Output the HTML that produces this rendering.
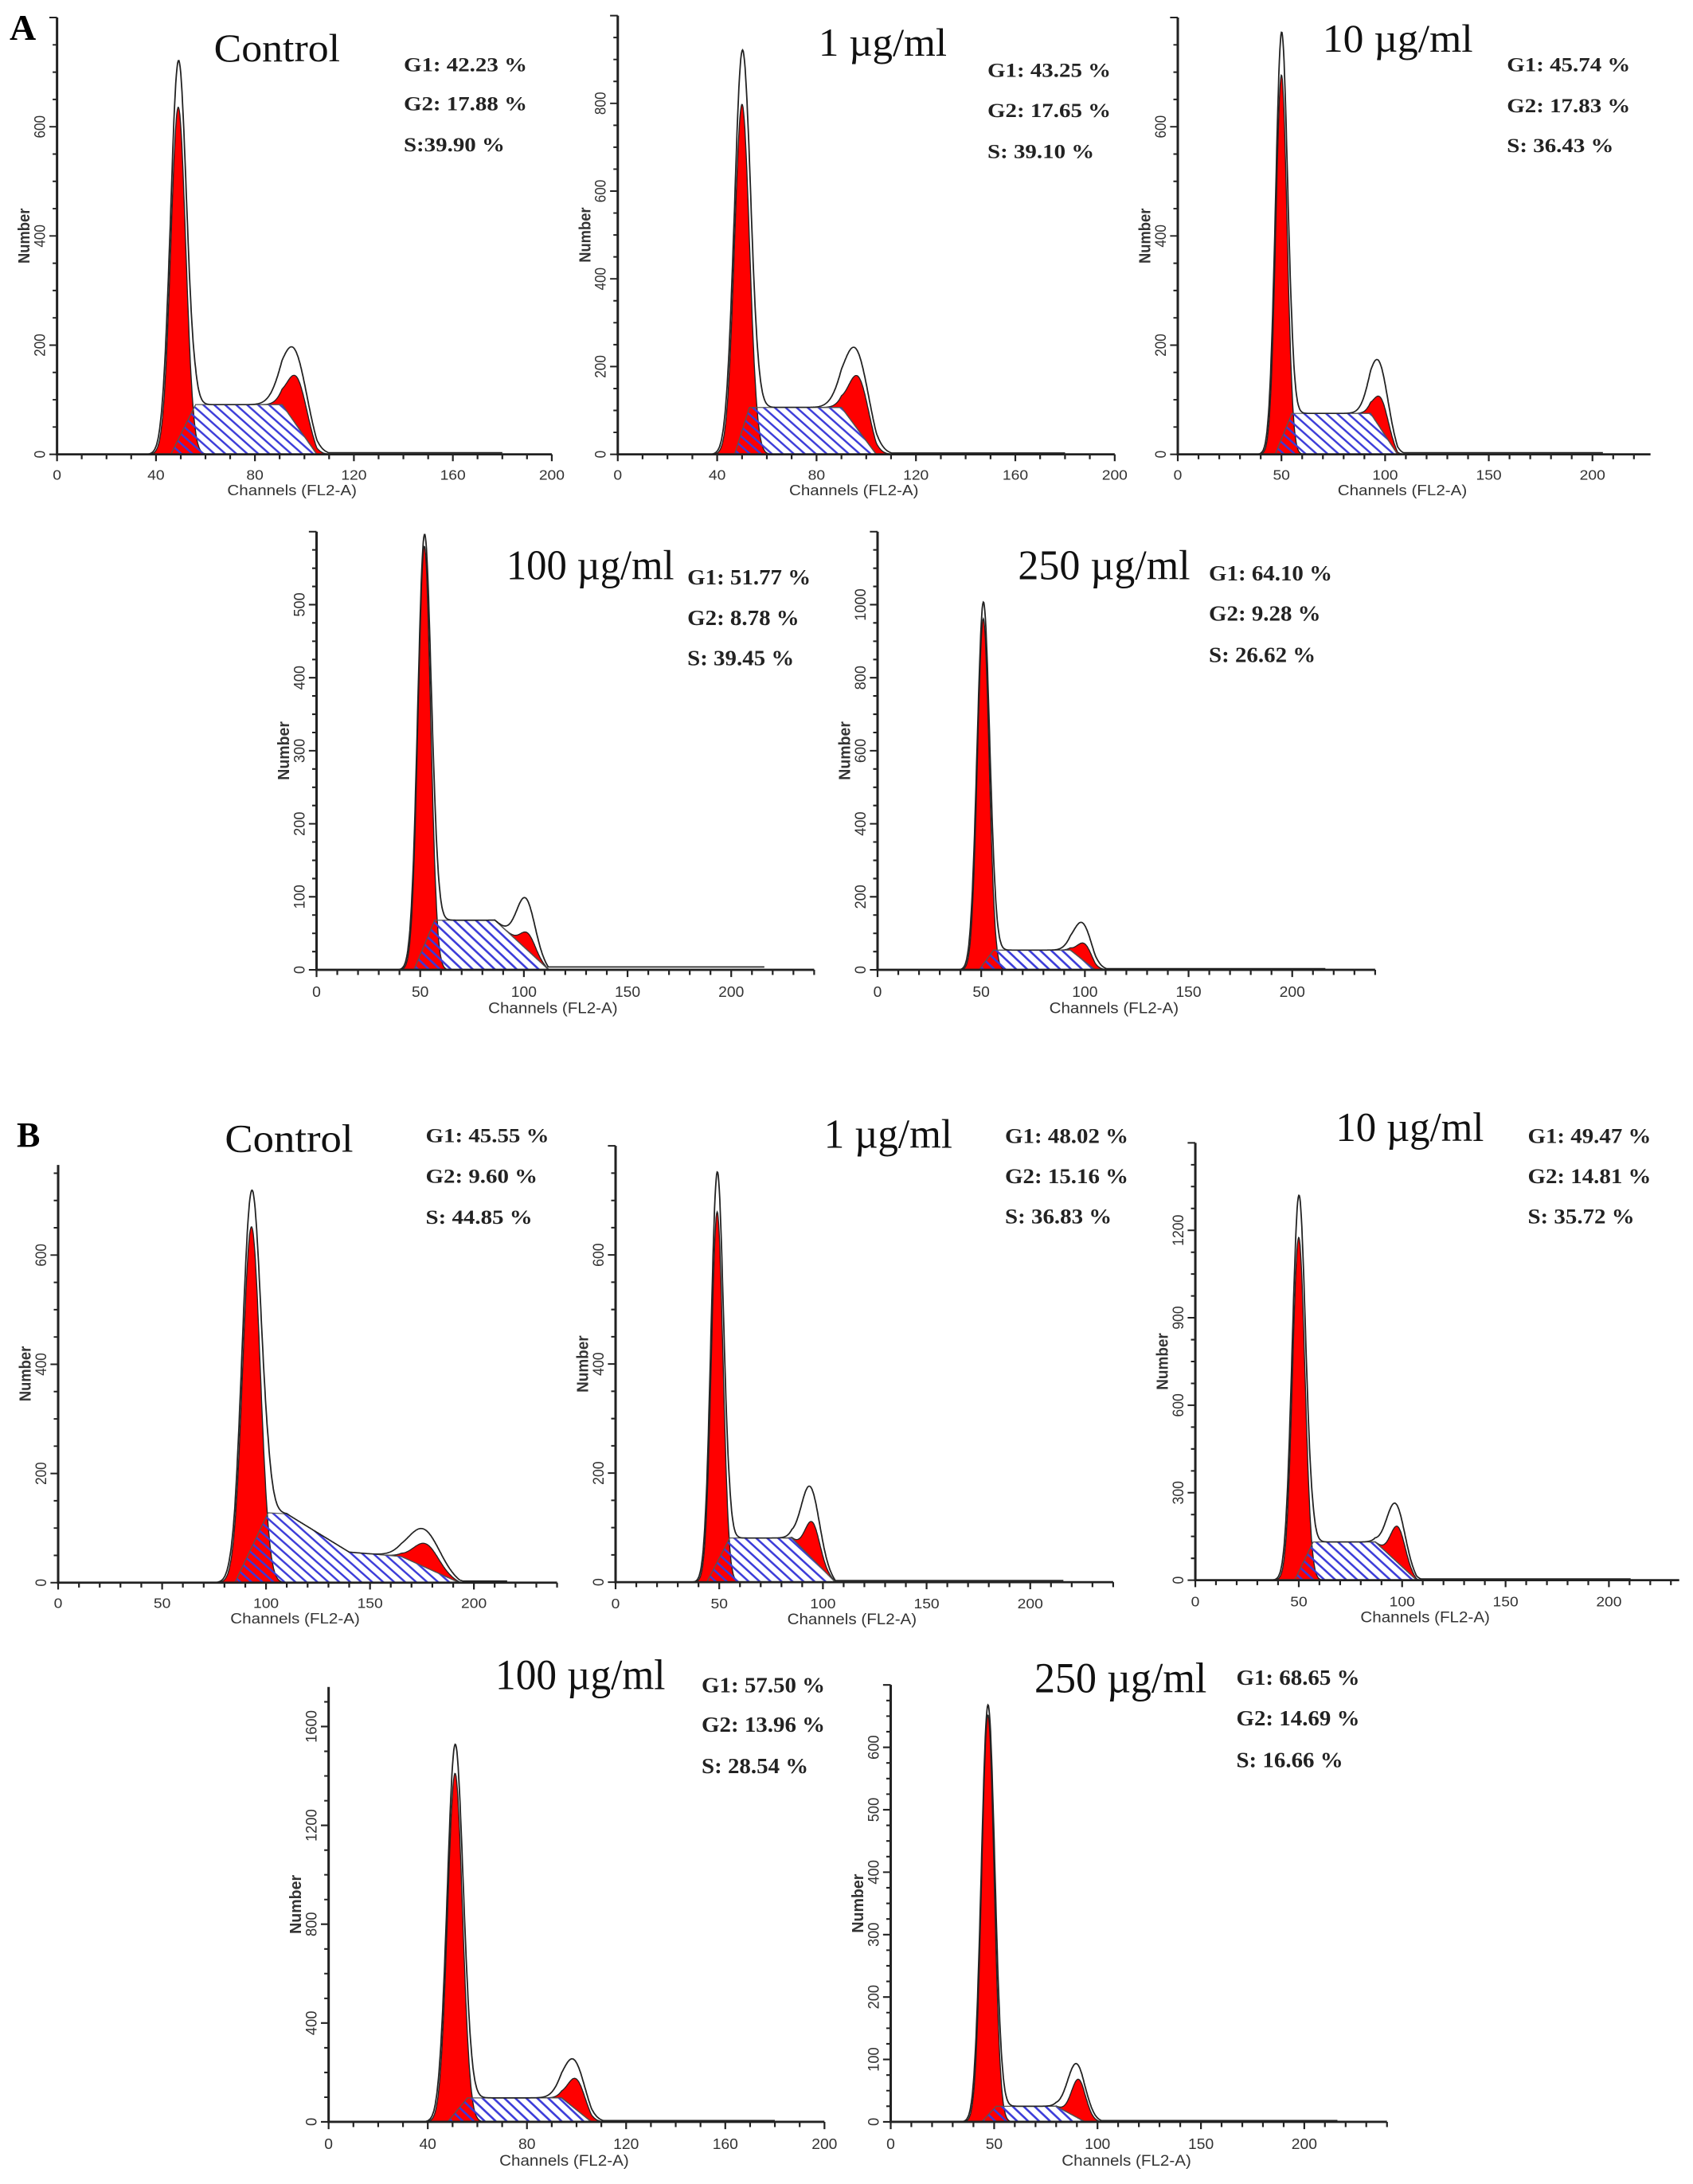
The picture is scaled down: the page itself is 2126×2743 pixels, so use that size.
<!DOCTYPE html>
<html><head><meta charset="utf-8"><style>
html,body{margin:0;padding:0;background:#fff;}
svg{display:block;}
</style></head><body>
<svg id="fig" xmlns="http://www.w3.org/2000/svg" width="2126" height="2743" viewBox="0 0 2126 2743">
<defs>
<pattern id="hatch" patternUnits="userSpaceOnUse" width="10" height="10">
<path d="M0,0 L10,10 M-5,5 L5,15 M5,-5 L15,5" stroke="#3a3ad8" stroke-width="1.9"/>
</pattern>
</defs>
<rect x="0" y="0" width="2126" height="2743" fill="#fff"/>
<text x="12" y="50" font-family="Liberation Serif, serif" font-size="46" font-weight="bold">A</text>
<text x="21" y="1440" font-family="Liberation Serif, serif" font-size="44" font-weight="bold">B</text>
</svg>
<script>
// ---- data (A1..A5, B1..B5) ----
const panelTitles = ["Control","1 µg/ml","10 µg/ml","100 µg/ml","250 µg/ml","Control","1 µg/ml","10 µg/ml","100 µg/ml","250 µg/ml"];
const statsG1 = ["G1: 42.23 %","G1: 43.25 %","G1: 45.74 %","G1: 51.77 %","G1: 64.10 %","G1: 45.55 %","G1: 48.02 %","G1: 49.47 %","G1: 57.50 %","G1: 68.65 %"];
const statsG2 = ["G2: 17.88 %","G2: 17.65 %","G2: 17.83 %","G2: 8.78 %","G2: 9.28 %","G2: 9.60 %","G2: 15.16 %","G2: 14.81 %","G2: 13.96 %","G2: 14.69 %"];
const statsS = ["S:39.90 %","S: 39.10 %","S: 36.43 %","S: 39.45 %","S: 26.62 %","S: 44.85 %","S: 36.83 %","S: 35.72 %","S: 28.54 %","S: 16.66 %"];
const g1Center = [49,50,50,52,51,93,49,50,51,47];
const g1Peak = [636,798,695,580,962,652,679,1176,1411,652];
const g1EnvPeak = [721,920,773,596,1007,718,752,1320,1528,668];
const g1Sigma = [3,3,2.7,3,2.8,4.2,2.8,3,3,3];
const g2Center = [97,97,98,102,100,177,95,98,100,91];
const g2Peak = [141,176,103,50,71,71,110,183,173,68];
const g2EnvPeak = [193,240,171,98,128,98,175,262,252,93];
const g2Sigma = [4,4,3.5,3.5,3.5,6,3.5,3.5,3.5,3.5];
const sKnots = [
 [[46,0],[56,91],[91,91],[105,0]],
 [[47,0],[53,107],[90,107],[104,0]],
 [[47,0],[55,75],[93,75],[106,0]],
 [[47,0],[57,68],[86,68],[112,0]],
 [[49,0],[56,54],[93,54],[105,0]],
 [[85,0],[101,128],[110,126],[140,56],[165,48],[193,0]],
 [[44,0],[55,81],[85,81],[106,0]],
 [[48,0],[57,131],[87,131],[107,0]],
 [[48,0],[56,97],[94,97],[106,0]],
 [[44,0],[51,25],[80,25],[94,0]]
];
const xTickLabels = [
 [0,40,80,120,160,200],[0,40,80,120,160,200],[0,50,100,150,200],[0,50,100,150,200],[0,50,100,150,200],
 [0,50,100,150,200],[0,50,100,150,200],[0,50,100,150,200],[0,40,80,120,160,200],[0,50,100,150,200]
];
const yTickLabels = [
 [0,200,400,600],[0,200,400,600,800],[0,200,400,600],[0,100,200,300,400,500],[0,200,400,600,800,1000],
 [0,200,400,600],[0,200,400,600],[0,300,600,900,1200],[0,400,800,1200,1600],[0,100,200,300,400,500,600]
];
const debrisLevel = [3,3,3,4,3,3,3,4,5,2];

// ---- layout (pixel geometry in measurement space, not data) ----
const layout = [
 {x0:52,y0:466,kx:2.255,xEnd:200,ky:0.56,yTop:800,tx:195,ty:63,tw:115,sx:368,sy:[73,113,155]},
 {x0:755,y0:466,kx:2.265,xEnd:200,ky:0.45,yTop:1000,tx:938,ty:57,tw:117,sx:1092,sy:[79,120,162]},
 {x0:1459,y0:466,kx:1.89,xEnd:228,ky:0.56,yTop:800,tx:1591,ty:53,tw:137,sx:1759,sy:[73,115,156]},
 {x0:379,y0:1082,kx:1.89,xEnd:240,ky:0.705,yTop:600,tx:552,ty:705,tw:153,sx:717,sy:[710,749,788]},
 {x0:1085,y0:1082,kx:1.89,xEnd:240,ky:0.3525,yTop:1200,tx:1213,ty:705,tw:157,sx:1387,sy:[706,745,785]},
 {x0:53,y0:1880,kx:1.895,xEnd:240,ky:0.56,yTop:765,tx:205,ty:1438,tw:117,sx:388,sy:[1428,1470,1512]},
 {x0:753,y0:1865,kx:1.89,xEnd:240,ky:0.5425,yTop:800,tx:943,ty:1433,tw:117,sx:1108,sy:[1428,1468,1508]},
 {x0:1475,y0:1863,kx:1.885,xEnd:234,ky:0.29,yTop:1500,tx:1603,ty:1426,tw:135,sx:1778,sy:[1428,1468,1508]},
 {x0:390,y0:2523,kx:2.26,xEnd:200,ky:0.2375,yTop:1760,tx:542,ty:2107,tw:155,sx:730,sy:[2110,2148,2188]},
 {x0:1097,y0:2523,kx:1.885,xEnd:240,ky:0.6,yTop:700,tx:1228,ty:2110,tw:157,sx:1412,sy:[2103,2142,2182]}
];
// measurement-space correction per panel: [ox, oy, fx, fy]
const correct = [
 [0,0,1.3776,1.2245],[700,0,1.3776,1.2245],[1406,0,1.3776,1.2245],
 [330,630,1.3776,1.301],[1040,630,1.3776,1.301],
 [0,1400,1.3776,1.2245],[700,1400,1.3776,1.2626],[1406,1400,1.3776,1.2626],
 [330,2060,1.3776,1.3066],[1040,2060,1.3776,1.3066]
];
const panelIds = ["a-control","a-1ug","a-10ug","a-100ug","a-250ug","b-control","b-1ug","b-10ug","b-100ug","b-250ug"];

const NS = "http://www.w3.org/2000/svg";
const fig = document.getElementById('fig');
function mk(tag, attrs, parent){
  const e = document.createElementNS(NS, tag);
  for (const k in attrs) e.setAttribute(k, attrs[k]);
  parent.appendChild(e);
  return e;
}
function gauss(x,c,h,s){ return h*Math.exp(-(x-c)*(x-c)/(2*s*s)); }
function sVal(knots,x){
  if (x<=knots[0][0] || x>=knots[knots.length-1][0]) return 0;
  for (let i=0;i<knots.length-1;i++){
    const a=knots[i], b=knots[i+1];
    if (x>=a[0] && x<=b[0]) return a[1]+(b[1]-a[1])*(x-a[0])/(b[0]-a[0]);
  }
  return 0;
}

for (let p=0;p<10;p++){
  const L = layout[p];
  const C = correct[p];
  const X = v => L.x0 + v*L.kx;
  const Y = v => L.y0 - v*L.ky;
  const g = mk('g',{transform:'translate('+C[0]+' '+C[1]+') scale('+C[2]+' '+C[3]+') translate('+(-C[0])+' '+(-C[1])+')'},fig);
  
  
  const kn = sKnots[p];
  const c1=g1Center[p], s1=g1Sigma[p], c2=g2Center[p], s2=g2Sigma[p];
  const g2Rel = g2Peak[p] - sVal(kn,c2);
  const env1Rel = g1EnvPeak[p] - sVal(kn,c1);
  const env2Rel = g2EnvPeak[p] - sVal(kn,c2-1) - gauss(c2-1,c1,env1Rel,s1*1.08);

  let d = 'M'+X(c1-4.2*s1).toFixed(1)+','+Y(0);
  for (let x=c1-4.2*s1;x<=c1+4.2*s1;x+=0.25) d+=' L'+X(x).toFixed(1)+','+Y(gauss(x,c1,g1Peak[p],s1)).toFixed(1);
  d += ' L'+X(c1+4.2*s1).toFixed(1)+','+Y(0)+' Z';
  const r1 = mk('path',{d:d,fill:'#ff0000',stroke:'#222','stroke-width':1},g);
  
  

  let top=[], bot=[];
  for (let x=c2-4*s2;x<=c2+4*s2;x+=0.25){
    const sv=sVal(kn,x);
    top.push(X(x).toFixed(1)+','+Y(sv+gauss(x,c2,g2Rel,s2)).toFixed(1));
    bot.unshift(X(x).toFixed(1)+','+Y(sv).toFixed(1));
  }
  const r2 = mk('path',{d:'M'+top.join(' L')+' L'+bot.join(' L')+' Z',fill:'#ff0000',stroke:'#222','stroke-width':1},g);
  
  

  let sd = 'M'+X(kn[0][0]).toFixed(1)+','+Y(0);
  for (const k of kn) sd += ' L'+X(k[0]).toFixed(1)+','+Y(k[1]).toFixed(1);
  sd += ' Z';
  const sp = mk('path',{d:sd,fill:'url(#hatch)',stroke:'#555','stroke-width':1},g);
  
  

  let ed='';
  const xs=c1-5*s1, xe=L.xEnd*0.9;
  for (let x=xs;x<=xe;x+=0.25){
    let v = gauss(x,c1,env1Rel,s1*1.08) + sVal(kn,x) + gauss(x,c2-1,env2Rel,s2*1.25);
    if (x>c1-3*s1) v = Math.max(v, debrisLevel[p]);
    ed += (ed?' L':'M')+X(x).toFixed(1)+','+Y(v).toFixed(1);
  }
  const ev = mk('path',{d:ed,fill:'none',stroke:'#222','stroke-width':1.3},g);
  
  

  const ax = mk('path',{d:'M'+L.x0+','+Y(L.yTop)+' L'+L.x0+','+L.y0+' L'+X(L.xEnd)+','+L.y0,fill:'none',stroke:'#222','stroke-width':2.2},g);
  
  
  const xt = xTickLabels[p];
  const xStep = xt[1]-xt[0];
  let td='';
  for (let v=0; v<=L.xEnd+0.01; v+=10){
    const major = Math.abs(v/xStep - Math.round(v/xStep))<1e-6;
    td += ' M'+X(v).toFixed(1)+','+L.y0+' L'+X(v).toFixed(1)+','+(L.y0+(major?7:5));
  }
  const yt = yTickLabels[p];
  const yStep = yt[1]-yt[0];
  for (let v=0; v<=L.yTop+0.01; v+=yStep/4){
    const major = Math.abs(v/yStep - Math.round(v/yStep))<1e-6;
    td += ' M'+L.x0+','+Y(v).toFixed(1)+' L'+(L.x0-(major?7:4))+','+Y(v).toFixed(1);
  }
  const tk = mk('path',{d:td,fill:'none',stroke:'#222','stroke-width':1.6},g);
  
  
  for (const v of xt){
    const t = mk('text',{x:X(v).toFixed(1),y:L.y0+26,'text-anchor':'middle','font-family':'Liberation Sans, sans-serif','font-size':14,fill:'#333'},g);
    t.textContent = v;
    
    
  }
  for (const v of yt){
    const yy = Y(v).toFixed(1), xx = L.x0-11;
    const t = mk('text',{x:xx,y:yy,transform:'rotate(-90 '+xx+' '+yy+')','text-anchor':'middle','font-family':'Liberation Sans, sans-serif','font-size':14,fill:'#333'},g);
    t.textContent = v;
    
    
  }
  const xl = mk('text',{x:(L.x0+0.475*L.xEnd*L.kx).toFixed(1),y:L.y0+42,'text-anchor':'middle','font-family':'Liberation Sans, sans-serif','font-size':15,fill:'#333',textLength:118,lengthAdjust:'spacingAndGlyphs'},g);
  xl.textContent = 'Channels (FL2-A)';
  
  
  const ymid = ((Y(L.yTop)+L.y0)/2).toFixed(1), yx = L.x0-25;
  const yl = mk('text',{x:yx,y:ymid,transform:'rotate(-90 '+yx+' '+ymid+')','text-anchor':'middle','font-family':'Liberation Sans, sans-serif','font-size':15,'font-weight':'bold',fill:'#333'},g);
  yl.textContent = 'Number';
  
  

  const tt = mk('text',{x:L.tx,y:L.ty,'font-family':'Liberation Serif, serif','font-size':41,fill:'#111',textLength:L.tw,lengthAdjust:'spacingAndGlyphs'},g);
  tt.textContent = panelTitles[p];
  
  
  const sts=[statsG1[p],statsG2[p],statsS[p]];
  for (let i=0;i<3;i++){
    const st = mk('text',{x:L.sx,y:L.sy[i],'font-family':'Liberation Serif, serif','font-size':21,'font-weight':'bold',fill:'#222'},g);
    st.textContent = sts[i];
    
    
  }
}
</script>
</body></html>
